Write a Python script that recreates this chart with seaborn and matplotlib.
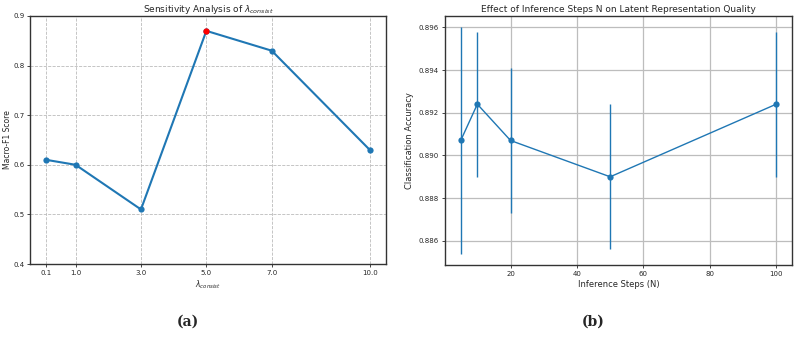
import numpy as np
import pandas as pd
import matplotlib
matplotlib.use('Agg')
import matplotlib.pyplot as plt
import seaborn as sns

# sensitivity of lambda_consist
lam_values = [0.1, 1.0, 3.0, 5.0, 7.0, 10.0]
macro_f1 = [0.61, 0.60, 0.51, 0.87, 0.83, 0.63]

# inference steps N
steps = [5, 10, 20, 50, 100]
acc = [0.8907, 0.8924, 0.8907, 0.8890, 0.8924]
acc_err = [0.0053, 0.0034, 0.0034, 0.0034, 0.0034]

df_lam = pd.DataFrame({'lam': lam_values, 'f1': macro_f1})
df_steps = pd.DataFrame({'N': steps, 'acc': acc, 'err': acc_err})

sns.set_style('white')
plt.rcParams['font.family'] = ['DejaVu Sans']

fig = plt.figure(figsize=(7.97, 3.37), dpi=100)
ax1 = fig.add_axes([0.0376, 0.2166, 0.4467, 0.736])
ax2 = fig.add_axes([0.5583, 0.2136, 0.4354, 0.739])

blue = '#1f77b4'

# (a)
sns.lineplot(data=df_lam, x='lam', y='f1', ax=ax1, color=blue, marker='o',
             markersize=4.5, markeredgewidth=0, linewidth=1.5)
best = df_lam.loc[df_lam['f1'].idxmax()]
ax1.plot(best['lam'], best['f1'], 'o', color='red', markersize=4.5, markeredgewidth=0, zorder=5)
ax1.set_xticks(lam_values)
ax1.set_xticklabels([f'{v:.1f}' for v in lam_values])
ax1.set_ylim(0.4, 0.9)
ax1.set_yticks([0.4, 0.5, 0.6, 0.7, 0.8, 0.9])
ax1.set_title(r'Sensitivity Analysis of $\lambda_{consist}$', fontsize=6.5, pad=3)
ax1.set_xlabel(r'$\lambda_{consist}$', fontsize=5.5, labelpad=2)
ax1.set_ylabel('Macro-F1 Score', fontsize=5.5, labelpad=1)
ax1.grid(True, linestyle='--', linewidth=0.6, color='#bbbbbb')
ax1.tick_params(labelsize=5, length=2.5, width=0.6, pad=1.5, left=True, bottom=True)
for s in ax1.spines.values():
    s.set_color('#333333')
    s.set_linewidth(1.0)

# (b)
ax2.errorbar(df_steps['N'], df_steps['acc'], yerr=df_steps['err'], fmt='none',
             ecolor=blue, elinewidth=1.0, zorder=3)
sns.lineplot(data=df_steps, x='N', y='acc', ax=ax2, color=blue, marker='o',
             markersize=4.5, markeredgewidth=0, linewidth=1.0, zorder=4)
ax2.set_yticks([0.886, 0.888, 0.890, 0.892, 0.894, 0.896])
ax2.set_xticks([20, 40, 60, 80, 100])
ax2.set_title('Effect of Inference Steps N on Latent Representation Quality', fontsize=6.5, pad=3)
ax2.set_xlabel('Inference Steps (N)', fontsize=6, labelpad=2)
ax2.set_ylabel('Classification Accuracy', fontsize=6, labelpad=3)
ax2.grid(True, linestyle='-', linewidth=0.9, color='#bdbdbd')
ax2.tick_params(labelsize=5, length=2.5, width=0.6, pad=2, left=True, bottom=True)
for s in ax2.spines.values():
    s.set_color('#333333')
    s.set_linewidth(1.0)

fig.text(0.236, 0.045, '(a)', fontsize=10, fontweight='bold', family='DejaVu Serif', ha='center', va='center')
fig.text(0.744, 0.045, '(b)', fontsize=10, fontweight='bold', family='DejaVu Serif', ha='center', va='center')

fig.savefig('out.png', dpi=100)
